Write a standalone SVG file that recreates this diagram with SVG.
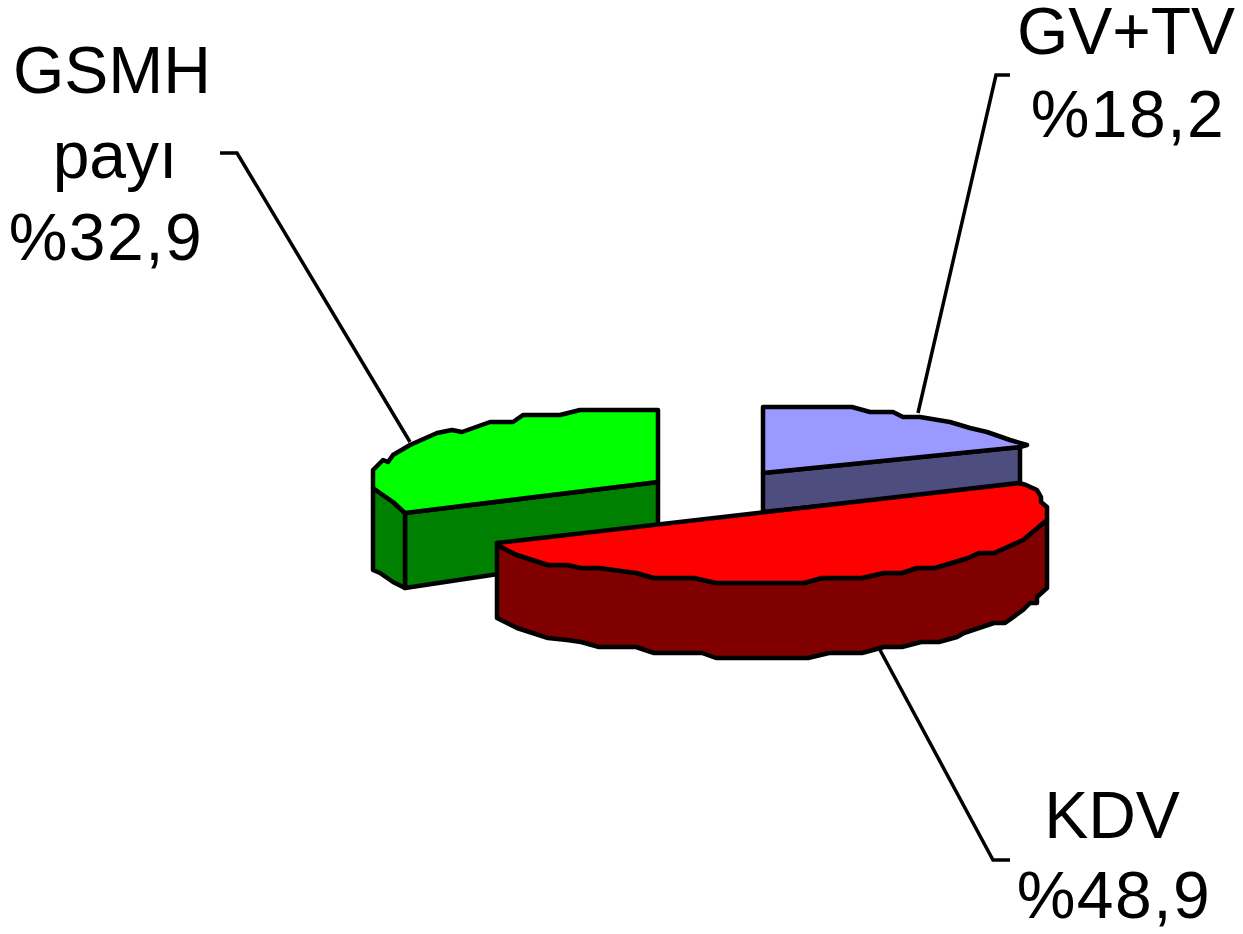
<svg xmlns="http://www.w3.org/2000/svg" width="1243" height="934" viewBox="0 0 1243 934">
<style>
.edge{stroke:#000;stroke-width:4.5;stroke-linejoin:round}
.lead{fill:none;stroke:#000;stroke-width:3.5;stroke-linejoin:miter}
.lbl{font-family:"Liberation Sans",Arial,sans-serif;font-size:66px;fill:#000;text-anchor:middle}
.pct{letter-spacing:1.5px}
</style>
<rect width="1243" height="934" fill="#fff"/>
<g id="slice-gsmh">
<polygon class="edge" fill="#008000" points="405,513 658,482 658,550 405,588"/>
<polygon class="edge" fill="#008000" points="373,488 380,493 393,502 405,513 405,588 393,582 380,573 373,570"/>
<polygon class="edge" fill="#00FF00" points="373,470 383,460 388,462 393,455 410,445 437,433 452,430 462,432 490,422 513,422 523,415 560,415 580,410 658,410 658,482 405,513 393,502 380,493 373,488"/>
</g>
<g id="slice-gvtv">
<polygon class="edge" fill="#4D4D80" points="763,473 1020,447 1020,485 763,512"/>
<polygon class="edge" fill="#9999FF" points="763,407 852,407 870,412 893,412 903,417 920,417 950,422 970,428 987,432 1010,440 1027,445 1020,447 763,473"/>
</g>
<g id="slice-kdv">
<polygon class="edge" fill="#800000" points="497,543 501,547 517,555 548,565 567,565 581,568 599,568 636,573 654,578 694,578 716,583 804,583 822,578 862,578 884,573 902,573 917,568 935,568 968,558 979,553 994,553 1023,540 1047,520 1047,588 1037,597 1037,603 1030,603 1023,610 1005,623 994,623 964,633 957,637 939,642 921,642 902,647 884,647 862,653 829,653 808,658 716,658 702,653 654,653 636,647 599,647 581,642 567,640 548,638 517,628 497,618"/>
<polygon class="edge" fill="#FF0000" points="497,543 1019,483 1026,485 1037,490 1041,497 1041,502 1047,507 1047,520 1023,540 994,553 979,553 968,558 935,568 917,568 902,573 884,573 862,578 822,578 804,583 716,583 694,578 654,578 636,573 599,568 581,568 567,565 548,565 517,555 501,547"/>
</g>
<g id="connectors">
<polyline class="lead" points="220,153 237,153 410,442"/>
<polyline class="lead" points="1010,75 996,75 918,413"/>
<polyline class="lead" points="880,650 993,860 1010,860"/>
</g>
<g id="label-gsmh">
<text class="lbl" x="112" y="93">GSMH</text>
<text class="lbl" x="115" y="178">payı</text>
<text class="lbl pct" x="106" y="260">%32,9</text>
</g>
<g id="label-gvtv">
<text class="lbl" x="1126" y="54">GV+TV</text>
<text class="lbl pct" x="1128" y="137">%18,2</text>
</g>
<g id="label-kdv">
<text class="lbl" x="1112" y="838">KDV</text>
<text class="lbl pct" x="1114" y="918">%48,9</text>
</g>
</svg>
